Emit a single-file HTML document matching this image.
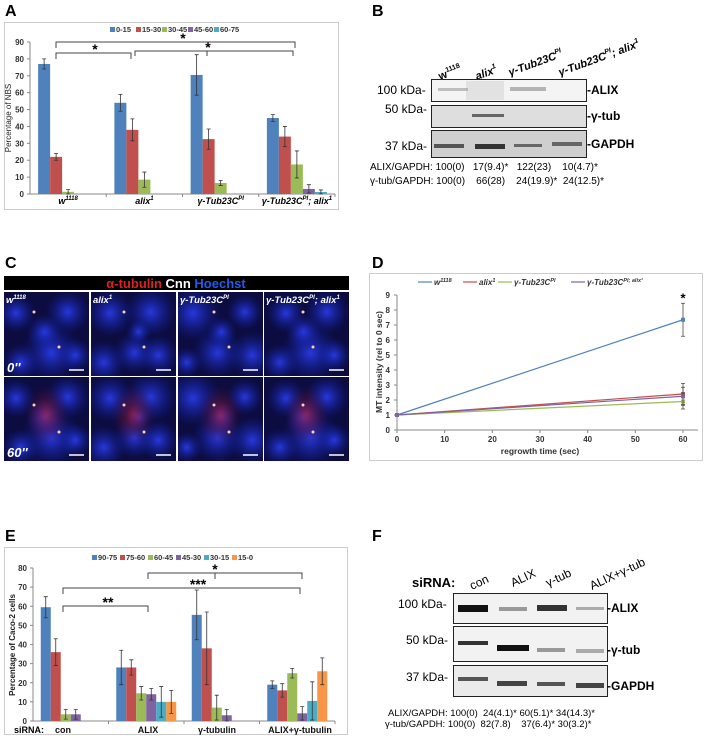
<!DOCTYPE html>
<html><head><meta charset="utf-8"><style>
body{margin:0;background:#fff;width:709px;height:738px;overflow:hidden;font-family:"Liberation Sans",sans-serif}
svg{display:block}
text{font-family:"Liberation Sans",sans-serif}
</style></head><body>
<svg id="fig" width="709" height="738" viewBox="0 0 709 738" xmlns="http://www.w3.org/2000/svg">
<defs id="defs">
<radialGradient id="blob" cx="50%" cy="50%" r="50%"><stop offset="0" stop-color="#2a3df0" stop-opacity="0.9"/><stop offset="1" stop-color="#1020a0" stop-opacity="0"/></radialGradient>
<radialGradient id="redb" cx="50%" cy="50%" r="50%"><stop offset="0" stop-color="#b02040" stop-opacity="0.7"/><stop offset="1" stop-color="#501030" stop-opacity="0"/></radialGradient>
</defs>
<g font-weight="bold" font-size="16">
<text x="5" y="16">A</text>
<text x="372" y="16">B</text>
<text x="5" y="268">C</text>
<text x="372" y="268">D</text>
<text x="5" y="541">E</text>
<text x="372" y="541">F</text>
</g>
<rect x="4.5" y="22.5" width="334" height="187" fill="#fff" stroke="#ccc"/>
<g id="chartA"></g>
<rect x="369.5" y="273.5" width="333" height="187" fill="#fff" stroke="#ccc"/>
<g id="chartD"></g>
<rect x="4.5" y="547.5" width="343" height="187" fill="#fff" stroke="#ccc"/>
<g id="chartE"></g>

<g font-size="12">
<g font-weight="bold" font-size="11">
<text transform="translate(440,80) rotate(-20)">w<tspan font-size="7" dy="-5">1118</tspan></text>
<text transform="translate(477,80) rotate(-20)" font-style="italic">alix<tspan font-size="7" dy="-5">1</tspan></text>
<text transform="translate(510,76) rotate(-20)" font-style="italic">γ-Tub23C<tspan font-size="7" dy="-5">PI</tspan></text>
<text transform="translate(560,76) rotate(-20)" font-style="italic">γ-Tub23C<tspan font-size="7" dy="-5">PI</tspan><tspan dy="5">; alix</tspan><tspan font-size="7" dy="-5">1</tspan></text>
</g>
<rect x="431.5" y="79.5" width="155" height="22" fill="#f4f4f4" stroke="#222"/>
<rect x="466" y="81" width="38" height="19" fill="#e2e2e2"/>
<rect x="438" y="88" width="30" height="3" fill="#999" opacity="0.6"/>
<rect x="510" y="87" width="36" height="4" fill="#888" opacity="0.6"/>
<rect x="431.5" y="105.5" width="155" height="22" fill="#dedede" stroke="#222"/>
<rect x="472" y="114" width="32" height="3" fill="#666"/>
<rect x="431.5" y="130.5" width="155" height="27" fill="#cfcfcf" stroke="#222"/>
<rect x="434" y="144" width="30" height="4" fill="#555"/>
<rect x="475" y="144" width="30" height="5" fill="#333"/>
<rect x="514" y="144" width="28" height="3" fill="#666"/>
<rect x="552" y="142" width="30" height="4" fill="#666"/>
<text x="377" y="94">100 kDa-</text>
<text x="385" y="113">50 kDa-</text>
<text x="385" y="150">37 kDa-</text>
<g font-weight="bold" font-size="12">
<text x="587" y="94">-ALIX</text>
<text x="587" y="120">-γ-tub</text>
<text x="587" y="148">-GAPDH</text>
</g>
<g font-size="10">
<text x="370" y="170">ALIX/GAPDH: 100(0)&#160;&#160; 17(9.4)*&#160;&#160; 122(23)&#160;&#160;&#160; 10(4.7)*</text>
<text x="370" y="184">γ-tub/GAPDH: 100(0)&#160;&#160;&#160; 66(28)&#160;&#160;&#160; 24(19.9)*&#160; 24(12.5)*</text>
</g>
</g>

<g>
<rect x="4" y="276" width="345" height="14" fill="#000"/>
<text x="176" y="288" text-anchor="middle" font-weight="bold" font-size="13"><tspan fill="#e02020">α-tubulin</tspan><tspan fill="#fff"> Cnn </tspan><tspan fill="#1e5cf0">Hoechst</tspan></text>
<g id="tiles"></g>
</g>

<g font-size="12">
<text x="412" y="587" font-weight="bold" font-size="13">siRNA:</text>
<g font-size="12">
<text transform="translate(472,590) rotate(-25)">con</text>
<text transform="translate(513,587) rotate(-25)">ALIX</text>
<text transform="translate(548,587) rotate(-25)">γ-tub</text>
<text transform="translate(592,590) rotate(-25)">ALIX+γ-tub</text>
</g>
<rect x="453.5" y="593.5" width="154" height="30" fill="#f2f2f2" stroke="#222"/>
<rect x="458" y="605" width="30" height="7" fill="#111"/>
<rect x="499" y="607" width="28" height="4" fill="#999"/>
<rect x="537" y="605" width="30" height="6" fill="#333"/>
<rect x="576" y="607" width="28" height="3" fill="#aaa"/>
<rect x="453.5" y="626.5" width="154" height="35" fill="#f2f2f2" stroke="#222"/>
<rect x="458" y="641" width="30" height="4" fill="#333"/>
<rect x="497" y="645" width="32" height="6" fill="#111"/>
<rect x="537" y="648" width="28" height="4" fill="#999"/>
<rect x="576" y="649" width="28" height="4" fill="#aaa"/>
<rect x="453.5" y="665.5" width="154" height="31" fill="#ebebeb" stroke="#222"/>
<rect x="458" y="677" width="30" height="4" fill="#555"/>
<rect x="497" y="681" width="30" height="5" fill="#444"/>
<rect x="537" y="682" width="28" height="4" fill="#555"/>
<rect x="576" y="683" width="28" height="5" fill="#444"/>
<text x="398" y="608">100 kDa-</text>
<text x="406" y="644">50 kDa-</text>
<text x="406" y="681">37 kDa-</text>
<g font-weight="bold" font-size="12">
<text x="607" y="612">-ALIX</text>
<text x="607" y="654">-γ-tub</text>
<text x="607" y="690">-GAPDH</text>
</g>
<g font-size="9.5">
<text x="388" y="716">ALIX/GAPDH: 100(0)&#160; 24(4.1)* 60(5.1)* 34(14.3)*</text>
<text x="385" y="727">γ-tub/GAPDH: 100(0)&#160; 82(7.8)&#160;&#160;&#160; 37(6.4)* 30(3.2)*</text>
</g>
</g>
</svg>
<script>
const catsA = ["w1118","alix1","γ-Tub23CPI","γ-Tub23CPI; alix1"];
const seriesNamesA = ["0-15","15-30","30-45","45-60","60-75"];
const a0_15 = [77,54,70.5,45];
const a15_30 = [22,38,32.5,34];
const a30_45 = [1.3,8.5,6.5,17.5];
const a45_60 = [0,0,0,3];
const a60_75 = [0,0,0,1.2];
const errA0 = [3,5,12,2];
const errA1 = [2,6.5,6,6];
const errA2 = [1.3,4.5,1.5,8];
const errA3 = [0,0,0,2.5];
const errA4 = [0,0,0,1.2];
const ticksA = [0,10,20,30,40,50,60,70,80,90];
const timesD = [0,60];
const dW = [1,7.35];
const dAlix = [1,2.4];
const dGT = [1,1.9];
const dGTalix = [1,2.25];
const errDW = [0,1.1];
const errDAlix = [0,0.7];
const errDGT = [0,0.5];
const errDGTalix = [0,0.6];
const ticksDY = [0,1,2,3,4,5,6,7,8,9];
const ticksDX = [0,10,20,30,40,50,60];
const catsE = ["con","ALIX","γ-tubulin","ALIX+γ-tubulin"];
const seriesNamesE = ["90-75","75-60","60-45","45-30","30-15","15-0"];
const e90_75 = [59.5,28,55.5,19];
const e75_60 = [36,28,38,16];
const e60_45 = [3.5,14.5,7,25];
const e45_30 = [3.5,14,3,4];
const e30_15 = [0,10,0,10.5];
const e15_0 = [0,10,0,26];
const errE0 = [5.5,9,13,2];
const errE1 = [7,4,19,3.5];
const errE2 = [2.5,3.5,6.5,2.5];
const errE3 = [2.5,3,3,3.5];
const errE4 = [0,8,0,10];
const errE5 = [0,6,0,7];
const ticksE = [0,10,20,30,40,50,60,70,80];

const COLORS = ["#4f81bd","#c0504d","#9bbb59","#8064a2","#4bacc6","#f79646"];
const NS = "http://www.w3.org/2000/svg";
function mk(tag, attrs, parent){const e=document.createElementNS(NS,tag);for(const k in attrs)e.setAttribute(k,attrs[k]);parent.appendChild(e);return e;}
function txt(s,attrs,parent){const e=mk("text",attrs,parent);e.textContent=s;return e;}
function sup(t,s){const sp=document.createElementNS(NS,"tspan");sp.setAttribute("font-size","6");sp.setAttribute("dy","-4");sp.textContent=s;t.appendChild(sp);return sp;}
function norm(t,s){const sp=document.createElementNS(NS,"tspan");sp.setAttribute("dy","4");sp.textContent=s;t.appendChild(sp);}

function barChart(g, cats, names, series, errs, ticks, o){
  const y = v => o.y0 - v/(o.ymax)*(o.y0 - o.yTop);
  const catW = (o.x1 - o.x0)/cats.length;
  const slot = o.slot;
  const ax = mk("line",{x1:o.x0,y1:o.y0,x2:o.x1,y2:o.y0,stroke:"#888"},g);
  
  
  const ay = mk("line",{x1:o.x0,y1:o.y0,x2:o.x0,y2:o.yTop,stroke:"#888"},g);
  
  
  ticks.forEach(t=>{
    mk("line",{x1:o.x0-3,x2:o.x0,y1:y(t),y2:y(t),stroke:"#888"},g);
    const tl = txt(String(t),{x:o.x0-6,y:y(t)+3,"text-anchor":"end","font-size":"8","font-weight":"bold",fill:"#333"},g);
    
    
  });
  for(let i=1;i<=cats.length;i++) mk("line",{x1:o.x0+catW*i,x2:o.x0+catW*i,y1:o.y0,y2:o.y0+3,stroke:"#888"},g);
  series.forEach((vals,si)=>{
    vals.forEach((v,ci)=>{
      const gx = o.x0 + catW*ci + (catW - slot*series.length)/2 + slot*si;
      const r = mk("rect",{x:gx,y:y(v),width:slot,height:o.y0-y(v),fill:COLORS[si]},g);
      
      
      const e = errs[si][ci];
      if(e>0){
        const cx=gx+slot/2;
        const eb = mk("path",{d:`M${cx},${y(v+e)}V${y(Math.max(0,v-e))}M${cx-2},${y(v+e)}h4M${cx-2},${y(Math.max(0,v-e))}h4`,stroke:"#333","stroke-width":"0.8",fill:"none"},g);
        
        
      }
    });
  });
  let lx = o.legX;
  names.forEach((n,i)=>{
    mk("rect",{x:lx,y:o.legY-5,width:5,height:5,fill:COLORS[i]},g);
    const lt = txt(n,{x:lx+6,y:o.legY,"font-size":"7.5","font-weight":"bold",fill:"#333"},g);
    
    
    lx += o.legStep;
  });
  return {y, catC: i=>o.x0+catW*(i+0.5)};
}
function bracket(g,x1,x2,yTop,drop,label,sx,mid){
  let d=`M${x1},${yTop+drop}V${yTop}H${x2}V${yTop+drop}`;
  if(mid) d+=`M${mid},${yTop}v${drop}`;
  const p = mk("path",{d,stroke:"#444","stroke-width":"1",fill:"none"},g);
  
  
  const t = txt(label,{x:sx,y:yTop+1,"text-anchor":"middle","font-size":"14","font-weight":"bold"},g);
  
  
}

const gA = document.getElementById("chartA");
const A = barChart(gA, catsA, seriesNamesA, [a0_15,a15_30,a30_45,a45_60,a60_75],[errA0,errA1,errA2,errA3,errA4], ticksA,
  {x0:30,x1:335,y0:194,yTop:42,ymax:90,slot:12,legX:110,legY:32,legStep:26});
const labA = [["w","1118",""],["alix","1",""],["γ-Tub23C","PI",""],["γ-Tub23C","PI","; alix","1"]];
catsA.forEach((c,i)=>{
  const t = txt("",{x:A.catC(i),y:204,"text-anchor":"middle","font-size":"9","font-weight":"bold","font-style":"italic"},gA);
  
  
  const L=labA[i];
  t.textContent=L[0]; sup(t,L[1]);
  if(L[2]){norm(t,L[2]); sup(t,L[3]);}
});
const yA = txt("Percentage of NBS",{transform:"translate(11,118) rotate(-90)","text-anchor":"middle","font-size":"8",fill:"#222"},gA);


bracket(gA,56,295,42,6,"*",183,null);
bracket(gA,56,131,53,6,"*",95,null);
bracket(gA,135,293,51,5,"*",208,207);

const gD = document.getElementById("chartD");
const dx = v => 397 + v/60*(683-397);
const dy = v => 430 - v/9*(430-295);
const ax1 = mk("line",{x1:397,y1:430,x2:698,y2:430,stroke:"#888"},gD);


const ay1 = mk("line",{x1:397,y1:430,x2:397,y2:295,stroke:"#888"},gD);


ticksDY.forEach(t=>{mk("line",{x1:394,x2:397,y1:dy(t),y2:dy(t),stroke:"#888"},gD);
  const l=txt(String(t),{x:390,y:dy(t)+3,"text-anchor":"end","font-size":"8","font-weight":"bold",fill:"#333"},gD);
  
  });
ticksDX.forEach(t=>{mk("line",{x1:dx(t),x2:dx(t),y1:430,y2:433,stroke:"#888"},gD);
  const l=txt(String(t),{x:dx(t),y:442,"text-anchor":"middle","font-size":"8","font-weight":"bold",fill:"#333"},gD);
  
  });
const xtD = txt("regrowth time (sec)",{x:540,y:454,"text-anchor":"middle","font-size":"8.5","font-weight":"bold",fill:"#333"},gD);


const ytD = txt("MT intensity (rel to 0 sec)",{transform:"translate(382,362) rotate(-90)","text-anchor":"middle","font-size":"8.5","font-weight":"bold",fill:"#333"},gD);


const dSeries=[dW,dAlix,dGT,dGTalix], dErr=[errDW,errDAlix,errDGT,errDGTalix];
const dCols=["#4f81bd","#c0504d","#9bbb59","#8064a2"], dNames=["w1118","alix1","gtub23c","gtub23c-alix1"];
dSeries.forEach((s,si)=>{
  const pts=s.map((v,i)=>dx(timesD[i])+","+dy(v)).join(" ");
  const l=mk("polyline",{points:pts,fill:"none",stroke:dCols[si],"stroke-width":"1.2"},gD);
  
  
  s.forEach((v,i)=>{
    const e=dErr[si][i];
    if(e>0){const cx=dx(timesD[i]);
      const eb=mk("path",{d:`M${cx},${dy(v+e)}V${dy(v-e)}M${cx-2},${dy(v+e)}h4M${cx-2},${dy(v-e)}h4`,stroke:"#444","stroke-width":"0.8",fill:"none"},gD);
      
      }
    const p=mk("rect",{x:dx(timesD[i])-2,y:dy(v)-2,width:4,height:4,fill:dCols[si]},gD);
    
    
  });
});
const starD=txt("*",{x:dx(60),y:dy(dW[1]+errDW[1])-1,"text-anchor":"middle","font-size":"13","font-weight":"bold"},gD);


const legD=[["w","1118",434],["alix","1",479],["γ-Tub23C","PI",514],["γ-Tub23C","PI; alix¹",587]];
legD.forEach((L,i)=>{
  mk("line",{x1:L[2]-16,x2:L[2]-2,y1:282,y2:282,stroke:dCols[i],"stroke-width":"1.2"},gD);
  const t=txt("",{x:L[2],y:285,"font-size":"8","font-weight":"bold","font-style":"italic",fill:"#333"},gD);
  
  
  t.textContent=L[0];
  const sp=document.createElementNS(NS,"tspan");sp.setAttribute("font-size","5.5");sp.setAttribute("dy","-3");sp.textContent=L[1];t.appendChild(sp);
});

const gE = document.getElementById("chartE");
const E = barChart(gE, catsE, seriesNamesE, [e90_75,e75_60,e60_45,e45_30,e30_15,e15_0],[errE0,errE1,errE2,errE3,errE4,errE5], ticksE,
  {x0:33,x1:335,y0:721,yTop:568,ymax:80,slot:10,legX:92,legY:560,legStep:28});
const xlE=[63,148,217,300];
catsE.forEach((c,i)=>{
  const t=txt(c,{x:xlE[i],y:733,"text-anchor":"middle","font-size":"9","font-weight":"bold",fill:"#111"},gE);
  
  
});
const sE=txt("siRNA:",{x:14,y:733,"font-size":"9","font-weight":"bold"},gE);


const yE=txt("Percentage of Caco-2 cells",{transform:"translate(15,645) rotate(-90)","text-anchor":"middle","font-size":"8","font-weight":"bold",fill:"#222"},gE);


bracket(gE,63,148,606,6,"**",108,null);
bracket(gE,63,300,588,6,"***",198,null);
bracket(gE,148,302,573,6,"*",215,215);

const tiles=document.getElementById("tiles");
const defs=document.getElementById("defs");
const colsX=[4,91,178,264], rowsY=[292,377], tw=85, th=84;
const tLab=[["w","1118",""],["alix","1",""],["γ-Tub23C","PI",""],["γ-Tub23C","PI","; alix","1"]];
rowsY.forEach((ry,ri)=>colsX.forEach((cx,ci)=>{
  const cp=mk("clipPath",{id:"clip"+ri+ci},defs);
  mk("rect",{x:cx,y:ry,width:tw,height:th},cp);
  const g=mk("g",{"clip-path":"url(#clip"+ri+ci+")"},tiles);
  
  
  mk("rect",{x:cx,y:ry,width:tw,height:th,fill:"#0c0c40"},g);
  const blobs=[[0.2,0.3,28],[0.75,0.25,26],[0.5,0.7,30],[0.85,0.8,24],[0.15,0.85,22],[0.5,0.45,18]];
  blobs.forEach((b,k)=>mk("circle",{cx:cx+tw*b[0]+((ci*7+k*5)%11)-5,cy:ry+th*b[1]+((ri*9+k*3)%9)-4,r:b[2]*(0.7+((ci+k)%3)*0.15),fill:"url(#blob)"},g));
  if(ri===1) mk("ellipse",{cx:cx+tw*0.5,cy:ry+th*0.45,rx:22,ry:30,fill:"url(#redb)"},g);
  mk("circle",{cx:cx+30+ci*3,cy:ry+20+ri*8,r:1.5,fill:"#ffd0b0"},g);
  mk("circle",{cx:cx+55-ci*2,cy:ry+55,r:1.5,fill:"#ffd0b0"},g);
  mk("line",{x1:cx+tw-20,x2:cx+tw-5,y1:ry+th-6,y2:ry+th-6,stroke:"#fff","stroke-width":"1.5"},g);
  if(ri===0){const t=txt("",{x:cx+2,y:ry+11,"font-size":"9.5","font-weight":"bold","font-style":"italic",fill:"#fff"},g);
    
    
    const L=tLab[ci]; t.textContent=L[0]; sup(t,L[1]); if(L[2]){norm(t,L[2]); sup(t,L[3]);}}
  if(ci===0){const t=txt(ri===0?"0''":"60''",{x:cx+3,y:ry+th-4,"font-size":"13","font-weight":"bold","font-style":"italic",fill:"#fff"},g);
    
    }
}));
</script>
</body></html>
